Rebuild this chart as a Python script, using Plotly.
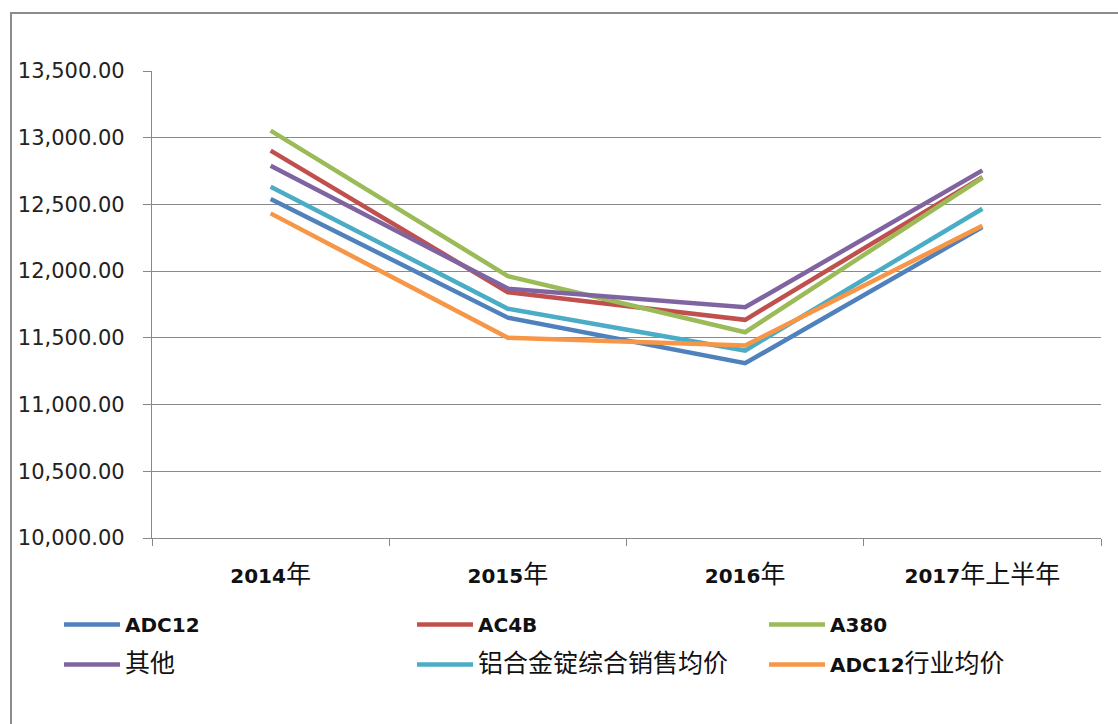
import re
import plotly.graph_objects as go

# Periods on the category axis
periods = ["2014年", "2015年", "2016年", "2017年上半年"]

# Average selling price per grade (yuan / tonne)
adc12 = [12541, 11651, 11310, 12330]
ac4b = [12903, 11842, 11635, 12705]
a380 = [13053, 11963, 11542, 12700]
others = [12790, 11869, 11729, 12755]
alloy_avg = [12633, 11718, 11405, 12468]
adc12_industry = [12433, 11500, 11442, 12340]

series_names = ["ADC12", "AC4B", "A380", "其他", "铝合金锭综合销售均价", "ADC12行业均价"]
series_values = [adc12, ac4b, a380, others, alloy_avg, adc12_industry]
series_colors = ["#4F81BD", "#C0504D", "#9BBB59", "#8064A2", "#4BACC6", "#F79646"]
# legend column for each series (three columns, two rows)
legend_cols = ["legend", "legend2", "legend3", "legend", "legend2", "legend3"]

y_ticks = [10000, 10500, 11000, 11500, 12000, 12500, 13000, 13500]

FONT = "DejaVu Sans, Noto Sans CJK SC, sans-serif"
CJK_SIZE = 25

L, R, T, B = 152, 17, 71, 186
W, H = 1118, 724
PW, PH = W - L - R, H - T - B


def px_x(px):
    return (px - L) / PW


def px_y(py):
    return (H - B - py) / PH


def styled(text):
    """Bold Latin runs, larger regular CJK runs."""
    parts = re.findall(r"[\u4e00-\u9fff]+|[^\u4e00-\u9fff]+", text)
    out = []
    for p in parts:
        if re.match(r"[\u4e00-\u9fff]", p):
            out.append(f'<span style="font-size:{CJK_SIZE}px">{p}</span>')
        else:
            out.append(f"<b>{p}</b>")
    return "".join(out)


fig = go.Figure()
for i, (name, vals, color, lg) in enumerate(
        zip(series_names, series_values, series_colors, legend_cols)):
    fig.add_trace(go.Scatter(
        x=periods, y=vals, mode="lines", name=styled(name),
        line=dict(color=color, width=4.5),
        legend=lg, legendgroup=f"g{i}",
    ))

tick_text = [styled(p) for p in periods]

legend_style = dict(
    orientation="v", yanchor="top", xanchor="left",
    itemwidth=56, tracegroupgap=11,
    font=dict(size=20, family=FONT, color="#111"),
    bgcolor="rgba(0,0,0,0)",
)

fig.update_layout(
    width=W, height=H,
    margin=dict(l=L, r=R, t=T, b=B, autoexpand=False),
    paper_bgcolor="white", plot_bgcolor="white",
    font=dict(family=FONT, color="#1a1a1a"),
    showlegend=True,
    legend=dict(x=px_x(59), y=px_y(605), **legend_style),
    legend2=dict(x=px_x(412), y=px_y(605), **legend_style),
    legend3=dict(x=px_x(764), y=px_y(605), **legend_style),
    xaxis=dict(
        type="category", tickvals=periods, ticktext=tick_text,
        range=[-0.5, len(periods) - 0.5],
        tickson="boundaries", ticks="outside", ticklen=7, tickcolor="#888",
        showline=True, linecolor="#888", linewidth=1.2,
        showgrid=False, tickfont=dict(size=20, family=FONT, color="#111"),
        ticklabelstandoff=20,
    ),
    yaxis=dict(
        range=[10000, 13500], tickvals=y_ticks, tickformat=",.2f",
        ticks="outside", ticklen=8, tickcolor="#888",
        showline=True, linecolor="#888", linewidth=1.2,
        showgrid=True, gridcolor="#8a8a8a", gridwidth=1,
        zeroline=False,
        tickfont=dict(size=21, family=FONT, color="#222"),
        ticklabelstandoff=14,
    ),
)

# Frame around the whole chart area
fig.add_shape(
    type="rect", xref="paper", yref="paper",
    x0=px_x(11), x1=px_x(1125), y0=px_y(740), y1=px_y(13),
    line=dict(color="#8c8c8c", width=2), layer="below",
)

fig.write_html("out.html")
